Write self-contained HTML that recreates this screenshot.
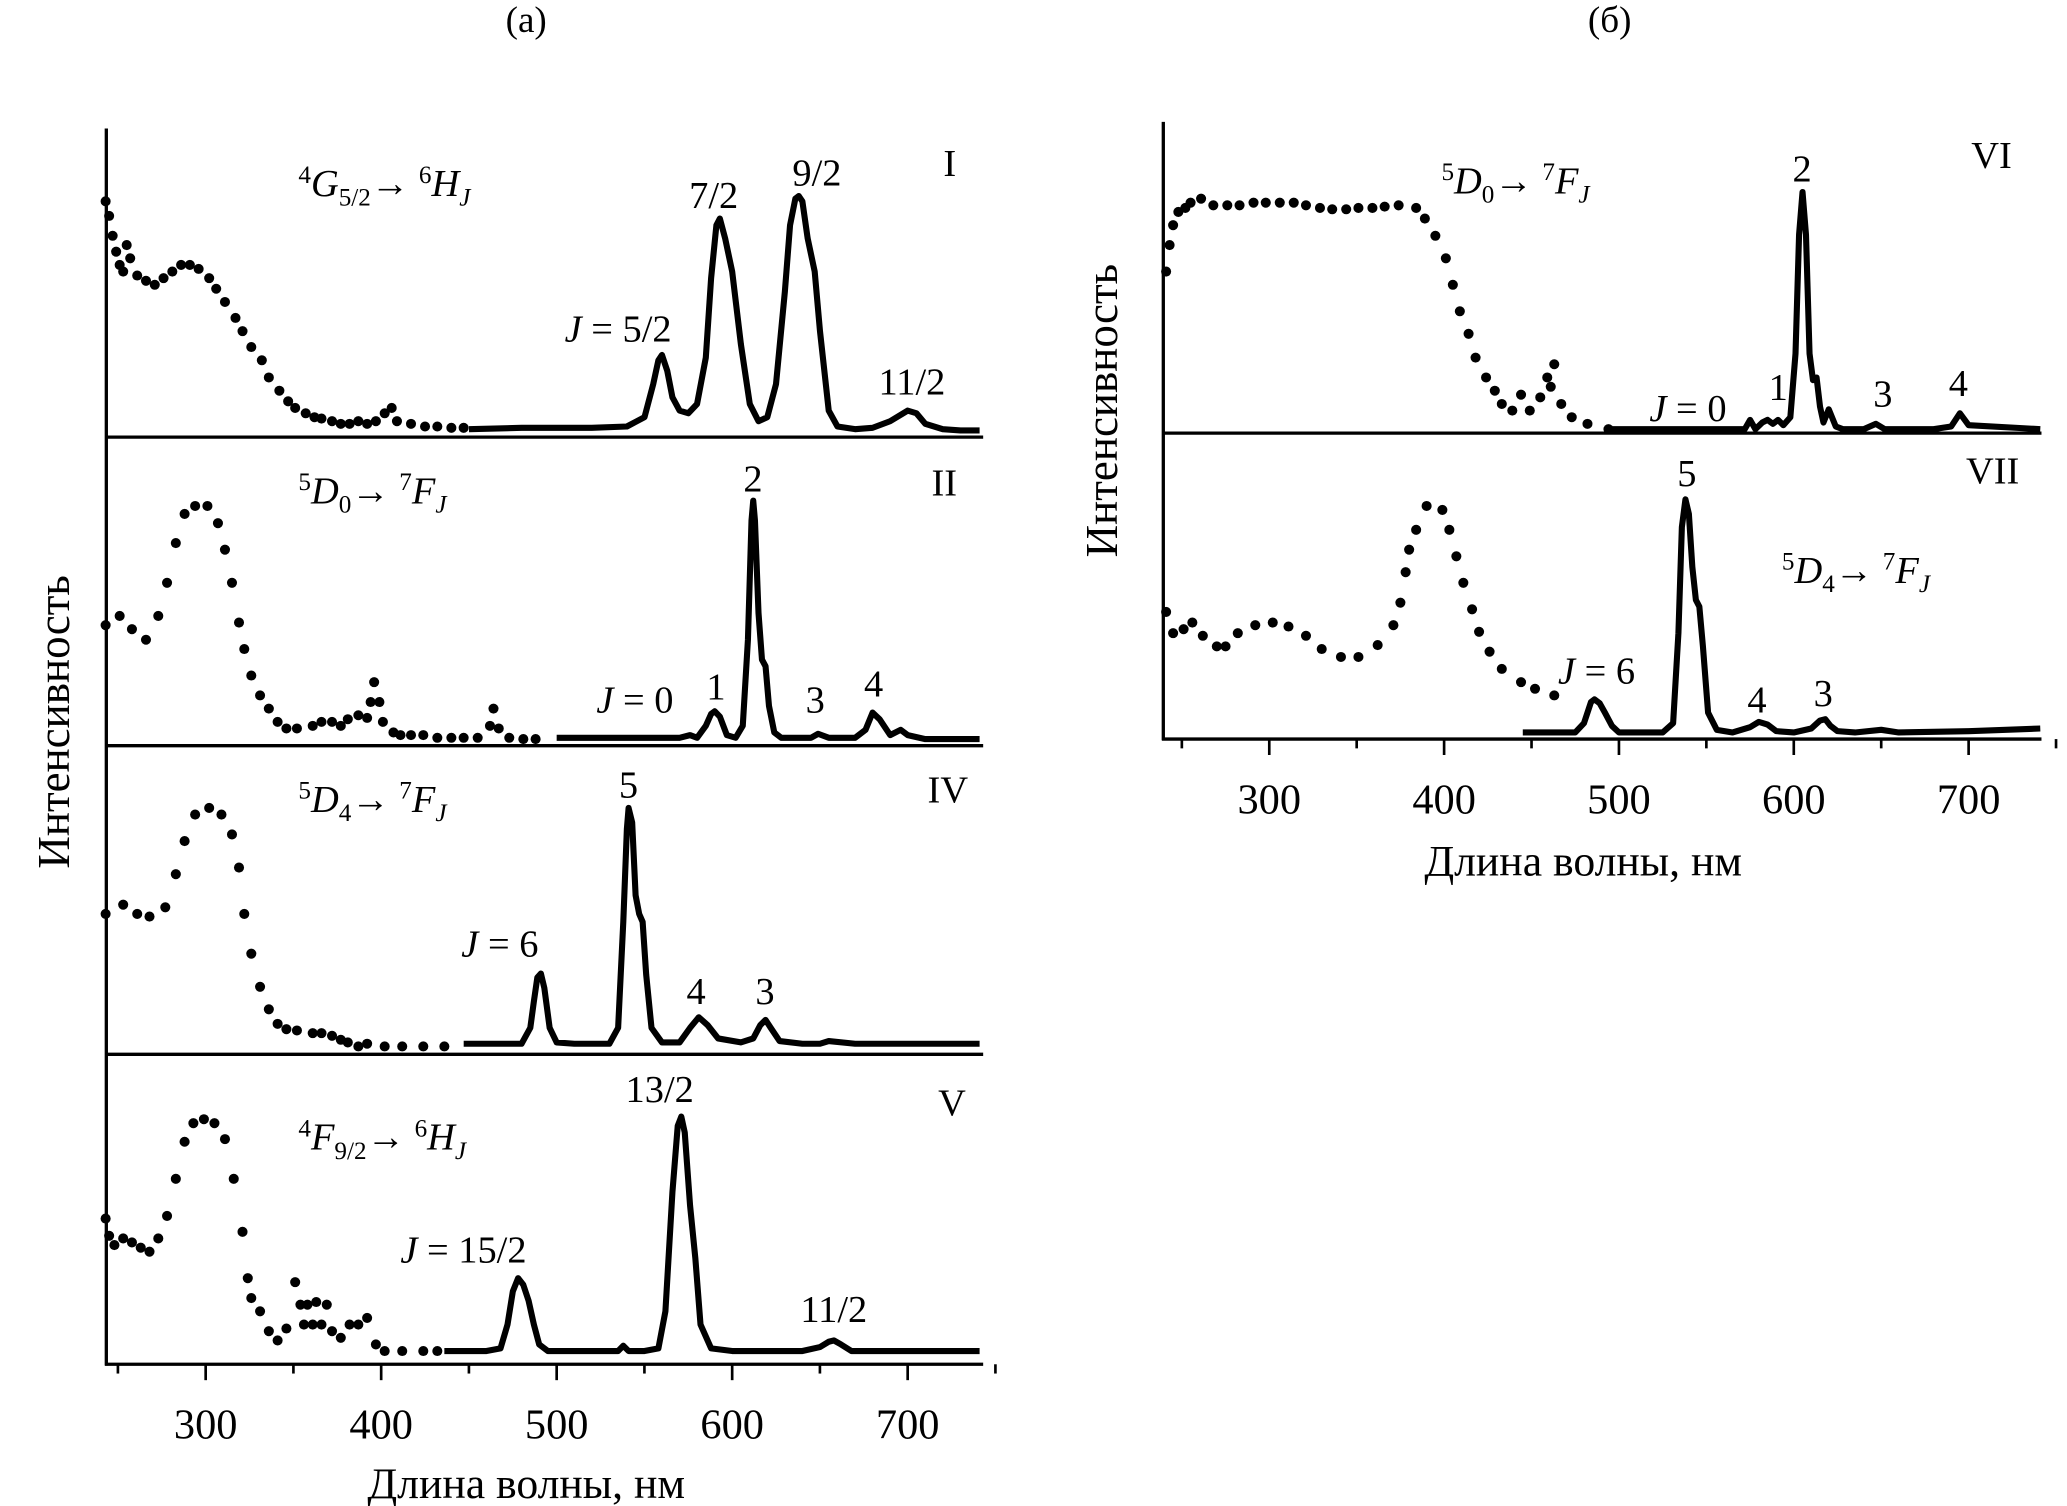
<!DOCTYPE html>
<html><head><meta charset="utf-8"><style>
html,body{margin:0;padding:0;background:#fff}
svg{display:block}
text{font-family:"Liberation Serif",serif;fill:#000}
</style></head><body>
<svg id="chart" width="2067" height="1506" viewBox="0 0 1560 1137" xmlns="http://www.w3.org/2000/svg">
<g id="axes" stroke="#000" stroke-width="2.5" fill="none">
  <line x1="80" y1="97" x2="80" y2="1031"/>
  <line x1="79" y1="1030" x2="742" y2="1030"/>
  <line x1="80" y1="330" x2="742" y2="330"/>
  <line x1="80" y1="563" x2="742" y2="563"/>
  <line x1="80" y1="796" x2="742" y2="796"/>
  <line x1="878" y1="92" x2="878" y2="559"/>
  <line x1="877" y1="558" x2="1541" y2="558"/>
  <line x1="878" y1="327" x2="1541" y2="327"/>
</g>
<g id="ticks" stroke="#000" stroke-width="2"></g>
<g id="ticklabels" font-size="32" text-anchor="middle"></g>
<g id="marks"></g>

<text x="397" y="24" font-size="28" text-anchor="middle">(а)</text>
<text x="1215" y="24" font-size="28" text-anchor="middle">(б)</text>
<text x="397" y="1131" font-size="33" text-anchor="middle">Длина волны, нм</text>
<text x="1195" y="661" font-size="33" text-anchor="middle">Длина волны, нм</text>
<text transform="translate(52,545) rotate(-90)" font-size="34" text-anchor="middle">Интенсивность</text>
<text transform="translate(843,310) rotate(-90)" font-size="34" text-anchor="middle">Интенсивность</text>

<g font-size="29">
  <text x="225" y="148"><tspan font-size="19" dy="-10">4</tspan><tspan font-style="italic" dy="10">G</tspan><tspan font-size="19" dy="7">5/2</tspan><tspan dy="-7">→ </tspan><tspan font-size="19" dy="-10">6</tspan><tspan font-style="italic" dy="10">H</tspan><tspan font-size="19" font-style="italic" dy="7">J</tspan></text>
  <text x="712" y="133">I</text>
  <text x="426" y="258"><tspan font-style="italic">J</tspan> = 5/2</text>
  <text x="520" y="157">7/2</text>
  <text x="598" y="140">9/2</text>
  <text x="663" y="298">11/2</text>

  <text x="225" y="380"><tspan font-size="19" dy="-10">5</tspan><tspan font-style="italic" dy="10">D</tspan><tspan font-size="19" dy="7">0</tspan><tspan dy="-7">→ </tspan><tspan font-size="19" dy="-10">7</tspan><tspan font-style="italic" dy="10">F</tspan><tspan font-size="19" font-style="italic" dy="7">J</tspan></text>
  <text x="703" y="374">II</text>
  <text x="450" y="538"><tspan font-style="italic">J</tspan> = 0</text>
  <text x="533" y="528">1</text>
  <text x="561" y="371">2</text>
  <text x="608" y="538">3</text>
  <text x="652" y="526">4</text>

  <text x="225" y="613"><tspan font-size="19" dy="-10">5</tspan><tspan font-style="italic" dy="10">D</tspan><tspan font-size="19" dy="7">4</tspan><tspan dy="-7">→ </tspan><tspan font-size="19" dy="-10">7</tspan><tspan font-style="italic" dy="10">F</tspan><tspan font-size="19" font-style="italic" dy="7">J</tspan></text>
  <text x="700" y="606">IV</text>
  <text x="348" y="722"><tspan font-style="italic">J</tspan> = 6</text>
  <text x="467" y="602">5</text>
  <text x="518" y="758">4</text>
  <text x="570" y="758">3</text>

  <text x="225" y="868"><tspan font-size="19" dy="-10">4</tspan><tspan font-style="italic" dy="10">F</tspan><tspan font-size="19" dy="7">9/2</tspan><tspan dy="-7">→ </tspan><tspan font-size="19" dy="-10">6</tspan><tspan font-style="italic" dy="10">H</tspan><tspan font-size="19" font-style="italic" dy="7">J</tspan></text>
  <text x="708" y="842">V</text>
  <text x="302" y="953"><tspan font-style="italic">J</tspan> = 15/2</text>
  <text x="472" y="832">13/2</text>
  <text x="604" y="998">11/2</text>

  <text x="1088" y="146"><tspan font-size="19" dy="-10">5</tspan><tspan font-style="italic" dy="10">D</tspan><tspan font-size="19" dy="7">0</tspan><tspan dy="-7">→ </tspan><tspan font-size="19" dy="-10">7</tspan><tspan font-style="italic" dy="10">F</tspan><tspan font-size="19" font-style="italic" dy="7">J</tspan></text>
  <text x="1488" y="127">VI</text>
  <text x="1353" y="137">2</text>
  <text x="1245" y="318"><tspan font-style="italic">J</tspan> = 0</text>
  <text x="1335" y="302">1</text>
  <text x="1414" y="307">3</text>
  <text x="1471" y="299">4</text>

  <text x="1484" y="365">VII</text>
  <text x="1266" y="367">5</text>
  <text x="1345" y="440"><tspan font-size="19" dy="-10">5</tspan><tspan font-style="italic" dy="10">D</tspan><tspan font-size="19" dy="7">4</tspan><tspan dy="-7">→ </tspan><tspan font-size="19" dy="-10">7</tspan><tspan font-style="italic" dy="10">F</tspan><tspan font-size="19" font-style="italic" dy="7">J</tspan></text>
  <text x="1176" y="516"><tspan font-style="italic">J</tspan> = 6</text>
  <text x="1319" y="538">4</text>
  <text x="1369" y="533">3</text>
</g>
</svg>
<script>
// tick values
const majorTicks = [300, 400, 500, 600, 700];
const minorTicks = [250, 350, 450, 550, 650, 750];

// Panel I (Sm)
const dotsI_x = [243,245,247,249,251,253,255,257,261,266,271,276,281,286,291,296,302,306,311,317,321,326,332,336,342,347,351,357,362,366,372,377,382,387,392,397,402,406,409,417,425,432,440,447];
const dotsI_y = [178,167,152,140,130,125,145,135,122,118,115,120,125,130,130,127,120,112,102,90,80,68,58,45,35,27,22,18,15,14,12,10,10,12,10,12,18,22,12,10,8,8,7,7];
const lineI_x = [450,480,520,540,550,555,558,560,563,566,570,575,580,585,588,591,593,596,600,605,610,615,620,625,630,633,636,638,640,643,647,650,655,660,670,680,690,700,705,710,720,730,741];
const lineI_y = [6,7,7,8,15,40,58,62,50,30,20,18,25,60,120,160,165,150,125,70,25,12,15,40,110,160,180,182,178,150,125,80,20,8,6,7,12,20,18,10,6,5,5];

// Panel II (Eu)
const dotsII_x = [243,251,258,266,273,278,283,288,294,301,307,311,315,319,322,326,331,336,341,346,352,361,366,372,377,381,387,392,394,396,399,401,407,411,417,424,432,440,447,455,462,464,467,473,481,488];
const dotsII_y = [91,98,88,80,98,123,153,175,181,181,168,148,123,93,73,53,38,28,18,13,13,15,18,18,15,20,23,21,33,48,33,18,10,8,8,8,6,6,6,6,15,28,13,6,5,5];
const lineII_x = [500,540,570,576,580,585,588,590,593,597,602,606,609,611,612,613,615,617,619,621,624,628,635,645,649,655,670,676,680,684,690,696,700,710,741];
const lineII_y = [6,6,6,8,6,15,24,26,22,8,6,15,80,170,185,170,100,65,60,30,10,6,6,6,9,6,6,12,25,20,8,12,8,5,5];

// Panel IV (Tb)
const dotsIV_x = [243,253,261,268,277,283,288,294,302,309,315,319,322,326,331,336,341,346,352,361,366,372,377,381,387,392,402,412,424,436];
const dotsIV_y = [106,113,106,104,111,136,161,181,186,181,166,141,106,76,51,34,23,19,18,16,16,14,11,9,6,8,6,6,6,6];
const lineIV_x = [447,480,485,487,489,491,493,496,500,510,530,535,538,540,541,543,545,547,549,551,554,560,570,576,581,586,592,605,612,616,619,622,627,640,650,655,670,700,741];
const lineIV_y = [8,8,20,40,58,61,50,20,9,8,8,20,100,170,186,175,120,106,100,60,20,9,9,20,28,22,12,9,12,22,26,20,10,8,8,10,8,8,8];

// Panel V (Dy)
const dotsV_x = [243,245,248,253,258,263,268,273,278,283,288,293,299,305,311,316,321,324,326,331,336,341,346,351,354,356,358,361,363,366,369,372,377,382,387,392,397,402,412,424,432];
const dotsV_y = [110,97,90,95,92,88,85,95,112,140,168,182,185,182,170,140,100,65,50,40,25,18,27,62,45,30,45,30,47,30,45,25,20,30,30,35,15,10,10,10,10];
const lineV_x = [436,460,468,472,475,478,481,484,487,490,495,510,535,538,541,550,558,562,566,569,571,573,576,579,582,588,600,640,650,655,658,662,668,680,741];
const lineV_y = [10,10,12,30,55,65,60,48,30,15,10,10,10,14,10,10,12,40,130,180,187,175,120,80,30,12,10,10,13,17,18,15,10,10,10];

// Panel VI (Eu, б)
const dotsVI_x = [241,243,245,248,252,255,261,268,276,283,291,298,306,314,321,329,336,344,351,359,366,374,384,389,395,401,405,409,414,418,424,429,433,439,444,449,455,459,463,461,467,473,482,494];
const dotsVI_y = [122,142,157,167,170,174,177,172,172,172,174,174,174,174,172,170,169,169,170,170,171,172,170,162,149,132,112,92,75,57,42,32,22,17,29,17,27,42,52,35,22,12,7,3];
const lineVI_x = [493,560,572,575,578,582,585,588,591,594,598,601,603,605,607,609,611,613,615,617,620,624,628,640,647,652,680,690,695,700,741];
const lineVI_y = [3,3,3,10,3,8,10,7,10,6,12,60,150,182,150,60,40,42,20,8,18,5,3,3,7,3,3,5,15,6,3];

// Panel VII (Tb, б)
const dotsVII_x = [241,245,251,256,262,270,275,282,292,302,311,321,330,341,351,362,371,375,378,380,384,390,399,403,407,411,416,420,426,433,444,452,463];
const dotsVII_y = [96,80,83,88,78,70,70,80,86,88,85,78,68,62,62,71,86,103,126,143,158,176,173,158,138,118,98,81,66,53,43,38,33];
const lineVII_x = [445,475,480,484,486,489,492,496,500,525,531,534,536,538,540,542,544,546,548,551,556,565,575,580,585,590,600,610,615,618,621,625,635,650,660,700,741];
const lineVII_y = [5,5,12,28,30,27,20,10,5,5,12,80,160,181,170,130,105,100,70,20,7,5,9,13,11,6,5,8,14,15,10,6,5,7,5,6,8];

const NS = 'http://www.w3.org/2000/svg';
function xa(l){ return 155 + (l - 300) * 1.325; }
function xb(l){ return 958 + (l - 300) * 1.32; }
function yScale(base){ return v => base - v; }

const marks = document.getElementById('marks');
const ticksG = document.getElementById('ticks');
const tlG = document.getElementById('ticklabels');

function drawPanel(name, xs, base, dx, dy, lx, ly){
  const ys = yScale(base);
  const g = document.createElementNS(NS, 'g');
  
  
  marks.appendChild(g);
  for (let i = 0; i < dx.length; i++) {
    const c = document.createElementNS(NS, 'circle');
    c.setAttribute('cx', xs(dx[i]));
    c.setAttribute('cy', ys(dy[i]));
    c.setAttribute('r', 3.8);
    c.setAttribute('fill', '#000');
    
    
    g.appendChild(c);
  }
  let d = '';
  for (let i = 0; i < lx.length; i++) d += (i ? 'L' : 'M') + xs(lx[i]).toFixed(1) + ',' + ys(ly[i]).toFixed(1);
  const p = document.createElementNS(NS, 'path');
  p.setAttribute('d', d);
  p.setAttribute('fill', 'none');
  p.setAttribute('stroke', '#000');
  p.setAttribute('stroke-width', 4.6);
  p.setAttribute('stroke-linejoin', 'round');
  
  
  g.appendChild(p);
}
drawPanel('I', xa, 330, dotsI_x, dotsI_y, lineI_x, lineI_y);
drawPanel('II', xa, 563, dotsII_x, dotsII_y, lineII_x, lineII_y);
drawPanel('IV', xa, 796, dotsIV_x, dotsIV_y, lineIV_x, lineIV_y);
drawPanel('V', xa, 1030, dotsV_x, dotsV_y, lineV_x, lineV_y);
drawPanel('VI', xb, 327, dotsVI_x, dotsVI_y, lineVI_x, lineVI_y);
drawPanel('VII', xb, 558, dotsVII_x, dotsVII_y, lineVII_x, lineVII_y);

function drawTicks(xs, base, labY){
  majorTicks.forEach(t => {
    const l = document.createElementNS(NS, 'line');
    l.setAttribute('x1', xs(t)); l.setAttribute('x2', xs(t));
    l.setAttribute('y1', base); l.setAttribute('y2', base + 12);
    
    
    ticksG.appendChild(l);
    const tx = document.createElementNS(NS, 'text');
    tx.setAttribute('x', xs(t)); tx.setAttribute('y', labY);
    tx.textContent = t;
    
    
    tlG.appendChild(tx);
  });
  minorTicks.forEach(t => {
    const l = document.createElementNS(NS, 'line');
    l.setAttribute('x1', xs(t)); l.setAttribute('x2', xs(t));
    l.setAttribute('y1', base); l.setAttribute('y2', base + 7);
    
    
    ticksG.appendChild(l);
  });
}
drawTicks(xa, 1030, 1086);
drawTicks(xb, 558, 614);
</script>
</body></html>
